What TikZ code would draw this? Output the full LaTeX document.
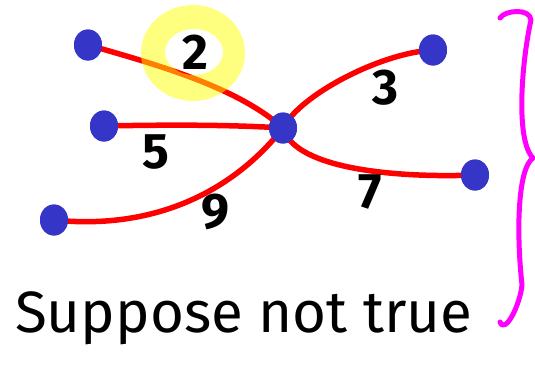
\documentclass[tikz,border=0pt]{standalone}
\usepackage{fontspec}
\setmainfont{Fira Sans}
\usetikzlibrary{shapes.geometric}
\begin{document}
\begin{tikzpicture}[x=1pt,y=-1pt,
  vert/.style={ellipse,fill=dotblue,minimum width=28pt,minimum height=31pt,inner sep=0pt},
  edge/.style={draw=edgered,line width=5.5pt,line cap=round},
  wlabel/.style={font=\fontsize{50}{50}\selectfont\bfseries,text=black,inner sep=0pt},
  brace/.style={draw=bracemag,line width=5pt,line cap=round,line join=round}]
\definecolor{dotblue}{RGB}{53,53,200}
\definecolor{edgered}{RGB}{255,0,0}
\definecolor{bracemag}{RGB}{255,0,255}
\definecolor{hlyellow}{RGB}{255,255,0}
\useasboundingbox (0,0) rectangle (535,364);
% vertices
\node[vert] (c) at (283,128) {};
\node[vert] (a) at (88,45) {};
\node[vert] (b) at (104,126) {};
\node[vert] (l) at (54,220) {};
\node[vert] (d) at (433,50) {};
\node[vert] (e) at (475,175) {};
% edges
\draw[edge] (a.center) .. controls (170,68) and (240,90) .. (c.center);
\draw[edge] (b.center) .. controls (200,124) and (250,126) .. (c.center);
\draw[edge] (l.center) .. controls (150,230) and (230,195) .. (c.center);
\draw[edge] (c.center) .. controls (300,95) and (380,53) .. (d.center);
\draw[edge] (c.center) .. controls (295,170) and (400,178) .. (e.center);
\foreach \n in {a,b,l,d,e,c} \node[vert] at (\n) {};
% highlight
\fill[hlyellow,opacity=0.5,even odd rule] (193,53) ellipse [x radius=52,y radius=48] (194,52) ellipse [x radius=29,y radius=23];
% labels
\node[wlabel] (w2) at (195,52) {2};
\node[wlabel] (w3) at (385,88) {3};
\node[wlabel] (w5) at (156,152) {5};
\node[wlabel] (w9) at (215,212) {9};
\node[wlabel] (w7) at (370,192) {7};
% text
\node[anchor=base west,inner sep=0pt] (txt) at (15,332) {\resizebox{457pt}{!}{\fontsize{62}{62}\selectfont Suppose not true}};
% brace
\draw[brace] (500,18) .. controls (505,10) and (530,8) .. (531,20)
  .. controls (522,60) and (515,140) .. (533,158)
  .. controls (518,168) and (516,230) .. (522,285)
  .. controls (520,305) and (505,335) .. (500,322);
\end{tikzpicture}
\end{document}
